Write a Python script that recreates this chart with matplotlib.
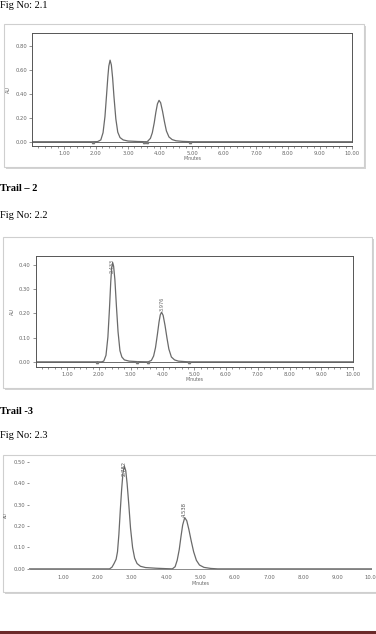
import matplotlib
matplotlib.use("Agg")
import matplotlib.pyplot as plt
from matplotlib.patches import Rectangle

# chromatogram traces (minutes, AU)
t1 = [0, 1.9, 2.05, 2.15, 2.22, 2.28, 2.33, 2.37, 2.40, 2.44, 2.48, 2.52, 2.56, 2.62,
      2.68, 2.75, 2.85, 3.0, 3.3, 3.6, 3.7, 3.76, 3.82, 3.87, 3.92, 3.97, 4.02, 4.08,
      4.14, 4.2, 4.28, 4.38, 4.5, 4.7, 5.0, 10]
au1 = [0, 0, 0.001, 0.015, 0.075, 0.21, 0.39, 0.54, 0.63, 0.68, 0.64, 0.53, 0.38, 0.19,
       0.08, 0.035, 0.015, 0.006, 0.002, 0, 0.028, 0.075, 0.158, 0.245, 0.316, 0.345,
       0.325, 0.253, 0.166, 0.09, 0.04, 0.018, 0.008, 0.003, 0, 0]
marks1 = [1.9, 3.5, 3.6, 4.95]

t2 = [0, 1.95, 2.08, 2.15, 2.22, 2.28, 2.33, 2.37, 2.40, 2.43, 2.46, 2.50, 2.55, 2.60,
      2.66, 2.72, 2.8, 2.95, 3.2, 3.55, 3.65, 3.72, 3.78, 3.84, 3.89, 3.93, 3.97, 4.02,
      4.08, 4.14, 4.2, 4.28, 4.38, 4.5, 4.7, 4.85, 10]
au2 = [0, 0, 0, 0.003, 0.027, 0.102, 0.22, 0.33, 0.39, 0.41, 0.395, 0.34, 0.227, 0.124,
       0.046, 0.02, 0.008, 0.003, 0.001, 0, 0.006, 0.024, 0.059, 0.114, 0.164, 0.194,
       0.205, 0.192, 0.15, 0.099, 0.053, 0.02, 0.008, 0.003, 0.001, 0, 0]
marks2 = [1.95, 3.2, 3.55, 4.85]
rt2 = [2.43, 3.976]
rt2_labels = ["2.433", "3.976"]

t3 = [0, 2.35, 2.42, 2.48, 2.54, 2.58, 2.62, 2.66, 2.70, 2.74, 2.78, 2.82, 2.86, 2.91,
      2.96, 3.02, 3.08, 3.15, 3.25, 3.4, 3.7, 4.0, 4.18, 4.26, 4.32, 4.38, 4.43, 4.48,
      4.54, 4.60, 4.66, 4.73, 4.80, 4.88, 4.97, 5.1, 5.3, 5.5, 10]
au3 = [0, 0, 0.008, 0.025, 0.045, 0.08, 0.16, 0.27, 0.37, 0.45, 0.48, 0.46, 0.40, 0.30,
       0.19, 0.10, 0.05, 0.025, 0.012, 0.006, 0.003, 0.001, 0, 0.01, 0.04, 0.09, 0.15,
       0.205, 0.24, 0.225, 0.185, 0.13, 0.08, 0.04, 0.018, 0.007, 0.002, 0, 0]
rt3 = [2.78, 4.54]
rt3_labels = ["2.782", "4.538"]

xticks = [1, 2, 3, 4, 5, 6, 7, 8, 9, 10]
yticks1 = [0.0, 0.2, 0.4, 0.6, 0.8]
yticks2 = [0.0, 0.1, 0.2, 0.3, 0.4]
yticks3 = [0.0, 0.1, 0.2, 0.3, 0.4, 0.5]

W, H = 376, 634
fig = plt.figure(figsize=(W / 100, H / 100), dpi=100)
serif = "Liberation Serif"
line_c = "#6a6a6a"
tick_c = "#666666"


def rect(x, y, w, h):
    return [x / W, 1 - (y + h) / H, w / W, h / H]


def frame(x, y, w, h):
    # soft shadowed frame around each screenshot, kept behind the axes
    fig.patches.append(Rectangle(((x + 1.5) / W, 1 - (y + h + 2) / H), w / W, h / H,
                                 transform=fig.transFigure, facecolor="#d4d4d4",
                                 edgecolor="none", zorder=-2))
    fig.patches.append(Rectangle((x / W, 1 - (y + h) / H), w / W, h / H,
                                 transform=fig.transFigure, facecolor="white",
                                 edgecolor="#cfcfcf", linewidth=0.8, zorder=-1))


def txt(x, y, s, **kw):
    fig.text(x / W, 1 - y / H, s, family=serif, va="center", ha="left", **kw)


def style(ax, yticks, ytop, box=True):
    ax.set_xlim(0, 10)
    ax.set_xticks(xticks)
    ax.set_xticklabels([f"{v:.2f}" for v in xticks])
    ax.set_yticks(yticks)
    ax.set_yticklabels([f"{v:.2f}" for v in yticks])
    ax.tick_params(labelsize=3.8, colors=tick_c, length=2.5, width=0.5, pad=1)
    ax.patch.set_alpha(0)
    if box:
        ax.set_xticks([i * 0.2 for i in range(1, 50)], minor=True)
        ax.tick_params(which="minor", length=1.5, width=0.5, colors=tick_c)
        for s in ax.spines.values():
            s.set_color("#555555")
            s.set_linewidth(0.7)
        ax.spines["right"].set_bounds(0, ytop)
    else:
        for s in ax.spines.values():
            s.set_visible(False)
        ax.tick_params(axis="x", length=0, pad=3)
        ax.tick_params(axis="y", length=1.5)


# ---- Fig 2.1 ----
txt(0, 5, "Fig No: 2.1", fontsize=7.5)
frame(4, 24, 360, 143)
ax1 = fig.add_axes(rect(32, 33.3, 320, 112.4))
ax1.plot(t1, au1, color=line_c, lw=0.9)
ax1.axhline(0, color="#555555", lw=0.6)
ax1.plot(marks1, [0] * len(marks1), marker="^", ls="none", ms=1.6, color="#777777")
ax1.set_ylim(-0.033, 0.904)
style(ax1, yticks1, 0.904)
ax1.set_xlabel("Minutes", fontsize=3.3, color=tick_c, labelpad=0.5)
ax1.set_ylabel("AU", fontsize=3.5, color=tick_c, labelpad=3)

# ---- Fig 2.2 ----
txt(0, 189, "Trail – 2", fontsize=7.5, weight="bold")
txt(0, 216, "Fig No: 2.2", fontsize=7.5)
frame(3, 237, 369, 151)
ax2 = fig.add_axes(rect(35.5, 256, 317.5, 110.7))
ax2.plot(t2, au2, color=line_c, lw=0.9)
ax2.axhline(0, color="#555555", lw=0.6)
ax2.plot(marks2, [0] * len(marks2), marker="^", ls="none", ms=1.6, color="#777777")
for x, lab, y in zip(rt2, rt2_labels, [0.36, 0.205]):
    ax2.text(x, y + 0.005, lab, rotation=90, fontsize=3.6, color="#666666",
             ha="center", va="bottom")
ax2.set_ylim(-0.02, 0.437)
style(ax2, yticks2, 0.437)
ax2.set_xlabel("Minutes", fontsize=3.3, color=tick_c, labelpad=0.5)
ax2.set_ylabel("AU", fontsize=3.5, color=tick_c, labelpad=3)

# ---- Fig 2.3 ----
txt(0, 411, "Trail -3", fontsize=7.5, weight="bold")
txt(0, 435, "Fig No: 2.3", fontsize=7.5)
frame(3, 455, 380, 137)
ax3 = fig.add_axes(rect(29, 459, 343, 112))
ax3.plot(t3, au3, color=line_c, lw=0.9)
ax3.axhline(0, xmin=0.003, color="#777777", lw=0.6)
for x, lab, y in zip(rt3, rt3_labels, [0.43, 0.24]):
    ax3.text(x, y + 0.003, lab, rotation=90, fontsize=3.8, color="#555555",
             ha="center", va="bottom")
ax3.set_ylim(-0.01, 0.514)
style(ax3, yticks3, 0.514, box=False)
ax3.set_xlabel("Minutes", fontsize=3.3, color=tick_c, labelpad=0.5)
ax3.set_ylabel("AU", fontsize=3, color=tick_c, labelpad=4)

# dark red rule at the page bottom
fig.add_artist(plt.Line2D([0, 1], [1 - 631.5 / H] * 2, color="#6b2a2a", lw=2.2,
                          transform=fig.transFigure))

fig.savefig("out.png", dpi=100)
